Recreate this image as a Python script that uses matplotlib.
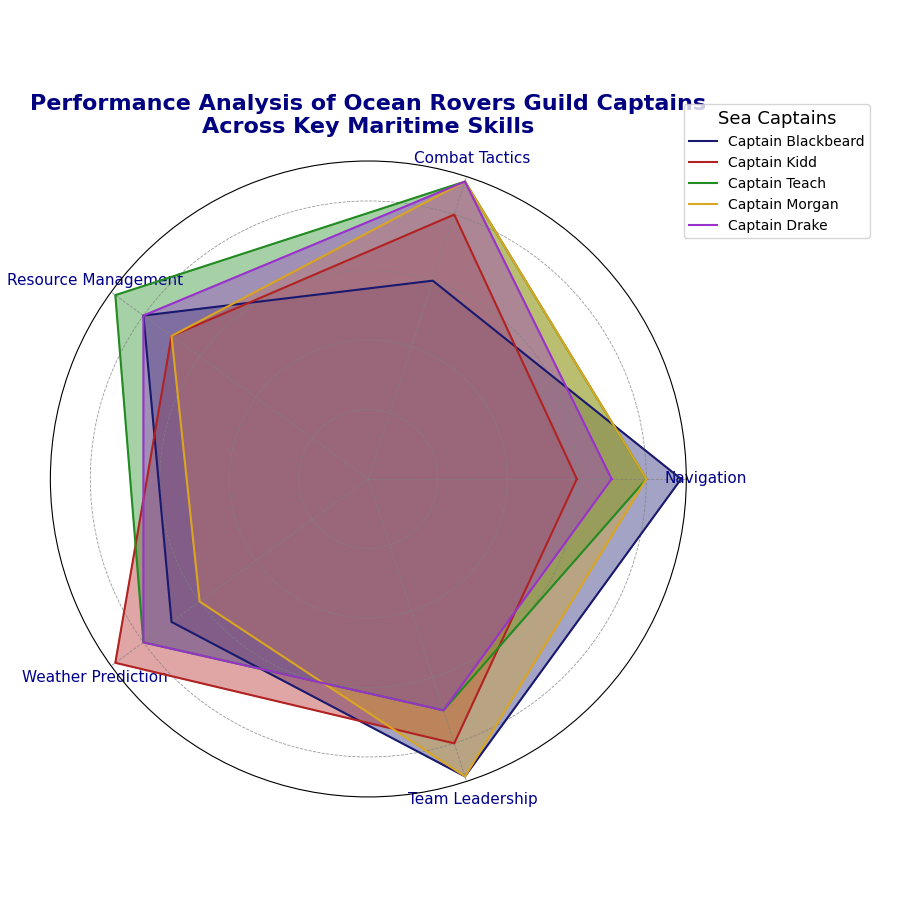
import numpy as np
import matplotlib.pyplot as plt

skills = ['Navigation', 'Combat Tactics', 'Resource Management', 'Weather Prediction', 'Team Leadership']
captains = ['Captain Blackbeard', 'Captain Kidd', 'Captain Teach', 'Captain Morgan', 'Captain Drake']
blackbeard = [9, 6, 8, 7, 9]
kidd = [6, 8, 7, 9, 8]
teach = [8, 9, 9, 8, 7]
morgan = [8, 9, 7, 6, 9]
drake = [7, 9, 8, 8, 7]
colors = ['midnightblue', 'firebrick', 'forestgreen', 'goldenrod', 'darkorchid']

angles = np.linspace(0, 2 * np.pi, len(skills), endpoint=False).tolist()
angles += angles[:1]

fig, ax = plt.subplots(figsize=(9, 9), subplot_kw=dict(polar=True))
for name, vals, c in zip(captains, [blackbeard, kidd, teach, morgan, drake], colors):
    v = vals + vals[:1]
    ax.plot(angles, v, color=c, linewidth=1.5, label=name)
    ax.fill(angles, v, color=c, alpha=0.4)

ax.set_xticks(angles[:-1])
ax.set_xticklabels(skills, fontsize=11, color='darkblue')
ax.set_yticks([2, 4, 6, 8])
ax.set_yticklabels([])
ax.set_ylim(0, 9.15)
ax.grid(True, linestyle='--', color='gray', linewidth=0.6, alpha=0.8)
ax.set_title('Performance Analysis of Ocean Rovers Guild Captains\nAcross Key Maritime Skills',
             fontsize=16, fontweight='bold', color='navy', pad=20)
ax.legend(loc='upper right', bbox_to_anchor=(1.3, 1.1), title='Sea Captains', title_fontsize=13)
plt.tight_layout()
plt.savefig('out.png', dpi=100)
